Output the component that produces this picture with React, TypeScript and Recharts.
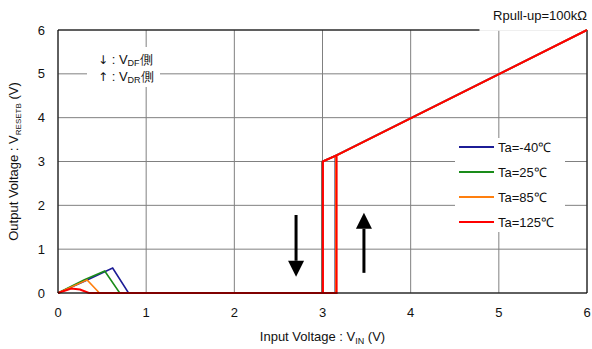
import React from "react";
import { LineChart, Line, XAxis, YAxis, CartesianGrid, ReferenceLine, ReferenceArea, Legend } from "recharts";

const FONT = '"Liberation Sans", Arial, sans-serif';

const xTicks = [0, 1, 2, 3, 4, 5, 6];
const yTicks = [0, 1, 2, 3, 4, 5, 6];

const seriesNames = ["Ta=-40℃", "Ta=25℃", "Ta=85℃", "Ta=125℃"];
const seriesColors = ["#1c1c96", "#1a8c1a", "#ff7f0e", "#ff0000"];

// each trace: low-voltage bump, then the hysteresis loop (rise at VDR, fall at VDF), then the linear part
const ta40 = [
  { x: 0, y: 0 }, { x: 0.3, y: 0.27 }, { x: 0.62, y: 0.57 }, { x: 0.8, y: 0 },
  { x: 3.145, y: 0 }, { x: 3.145, y: 3.13 }, { x: 2.995, y: 3.0 }, { x: 2.995, y: 0 },
  { x: 2.995, y: 3.0 }, { x: 3.145, y: 3.13 }, { x: 6, y: 6 },
];
const ta25 = [
  { x: 0, y: 0 }, { x: 0.3, y: 0.3 }, { x: 0.53, y: 0.5 }, { x: 0.7, y: 0 },
  { x: 3.15, y: 0 }, { x: 3.15, y: 3.13 }, { x: 3.0, y: 3.0 }, { x: 3.0, y: 0 },
  { x: 3.0, y: 3.0 }, { x: 3.15, y: 3.13 }, { x: 6, y: 6 },
];
const ta85 = [
  { x: 0, y: 0 }, { x: 0.33, y: 0.3 }, { x: 0.47, y: 0 },
  { x: 3.15, y: 0 }, { x: 3.15, y: 3.13 }, { x: 3.0, y: 3.0 }, { x: 3.0, y: 0 },
  { x: 3.0, y: 3.0 }, { x: 3.15, y: 3.13 }, { x: 6, y: 6 },
];
const ta125 = [
  { x: 0, y: 0 }, { x: 0.15, y: 0.1 }, { x: 0.25, y: 0.08 }, { x: 0.35, y: 0 },
  { x: 3.16, y: 0 }, { x: 3.16, y: 3.14 }, { x: 3.005, y: 3.0 }, { x: 3.005, y: 0 },
  { x: 3.005, y: 3.0 }, { x: 3.16, y: 3.14 }, { x: 6, y: 6 },
];
const seriesData = [ta40, ta25, ta85, ta125];

// arrows: [x, from y, to y]
const downArrow = [2.7, 1.78, 0.37];
const upArrow = [3.47, 0.46, 1.83];

const arrowShape = (props: any) => {
  const { x1, y1, x2, y2 } = props;
  const dir = y2 > y1 ? 1 : -1;
  const headLen = 16;
  const baseY = y2 - dir * headLen;
  return (
    <g>
      <line x1={x1} y1={y1} x2={x2} y2={baseY} stroke="#000" strokeWidth={3} />
      <polygon points={`${x2 - 8},${baseY} ${x2 + 8},${baseY} ${x2},${y2}`} fill="#000" />
    </g>
  );
};

const renderLegend = () => (
  <div style={{ background: "#fff", width: 110, height: 94, position: "relative", fontFamily: FONT, fontSize: 13, color: "#111" }}>
    {seriesNames.map((n, i) => (
      <div key={n} style={{ position: "absolute", left: 4, top: i * 25, height: 18, display: "flex", alignItems: "center", whiteSpace: "nowrap" }}>
        <span style={{ display: "inline-block", width: 35, height: 2, background: seriesColors[i], marginRight: 4 }} />
        <span>{n}</span>
      </div>
    ))}
  </div>
);

const XLabel = (props: any) => {
  const { viewBox } = props;
  const cx = viewBox.x + viewBox.width / 2;
  return (
    <text x={cx} y={viewBox.y + 48} textAnchor="middle" fontFamily={FONT} fontSize={13} fill="#111">
      Input Voltage : V<tspan fontSize={9} dy={3}>IN</tspan>
      <tspan dy={-3}> (V)</tspan>
    </text>
  );
};

const YLabel = (props: any) => {
  const { viewBox } = props;
  const cx = 18;
  const cy = viewBox.y + viewBox.height / 2;
  return (
    <text x={cx} y={cy} textAnchor="middle" transform={`rotate(-90, ${cx}, ${cy})`} fontFamily={FONT} fontSize={13} fill="#111">
      Output Voltage : V<tspan fontSize={8} dy={3}>RESETB</tspan>
      <tspan dy={-3}> (V)</tspan>
    </text>
  );
};

export default function App() {
  return (
    <div style={{ position: "absolute", left: 0, top: 0, width: 592, height: 349, background: "#fff" }}>
      <LineChart width={592} height={349} margin={{ top: 30, right: 5, bottom: 0, left: 0 }}>
        <CartesianGrid stroke="#808080" strokeWidth={1} />
        <XAxis
          type="number"
          dataKey="x"
          domain={[0, 6]}
          ticks={xTicks}
          allowDuplicatedCategory={false}
          height={56}
          tickLine={false}
          tickSize={0}
          tickMargin={15}
          axisLine={{ stroke: "#000" }}
          tick={{ fill: "#111", fontSize: 13, fontFamily: FONT }}
          label={<XLabel />}
        />
        <YAxis
          type="number"
          dataKey="y"
          domain={[0, 6]}
          ticks={yTicks}
          width={58}
          tickLine={false}
          tickSize={0}
          tickMargin={13}
          axisLine={{ stroke: "#000" }}
          tick={{ fill: "#111", fontSize: 13, fontFamily: FONT }}
          label={<YLabel />}
        />
        <ReferenceLine segment={[{ x: 0, y: 6 }, { x: 4.78, y: 6 }]} stroke="#000" />
        <ReferenceArea x1={4.78} x2={6} y1={5.985} y2={6.6} fill="#fff" fillOpacity={1} stroke="none" ifOverflow="visible" />
        <ReferenceLine x={6} stroke="#000" />
        {seriesData.map((d, i) => (
          <Line
            key={seriesNames[i]}
            data={d}
            dataKey="y"
            name={seriesNames[i]}
            stroke={seriesColors[i]}
            strokeWidth={i === 3 ? 2 : 1.6}
            dot={false}
            activeDot={false}
            type="linear"
            isAnimationActive={false}
          />
        ))}
        <ReferenceLine segment={[{ x: downArrow[0], y: downArrow[1] }, { x: downArrow[0], y: downArrow[2] }]} shape={arrowShape} />
        <ReferenceLine segment={[{ x: upArrow[0], y: upArrow[1] }, { x: upArrow[0], y: upArrow[2] }]} shape={arrowShape} />
        <Legend
          layout="vertical"
          align="center"
          verticalAlign="middle"
          content={renderLegend}
          wrapperStyle={{ position: "absolute", left: 455, top: 138, width: 110, height: 94 }}
        />
      </LineChart>
      <div style={{ position: "absolute", left: 87, top: 47, width: 73, height: 40, background: "#fff", fontFamily: FONT, fontSize: 13, color: "#111", lineHeight: "14px" }}>
        <div style={{ paddingLeft: 11, paddingTop: 6 }}>
          <span style={{ fontFamily: '"DejaVu Sans"', fontSize: 12 }}>↓</span> : V<sub style={{ fontSize: 9, verticalAlign: "-2px" }}>DF</sub>側
        </div>
        <div style={{ paddingLeft: 11 }}>
          <span style={{ fontFamily: '"DejaVu Sans"', fontSize: 12 }}>↑</span> : V<sub style={{ fontSize: 9, verticalAlign: "-2px" }}>DR</sub>側
        </div>
      </div>
      <div style={{ position: "absolute", right: 5, top: 8, fontFamily: FONT, fontSize: 13, color: "#111" }}>Rpull-up=100kΩ</div>
    </div>
  );
}
